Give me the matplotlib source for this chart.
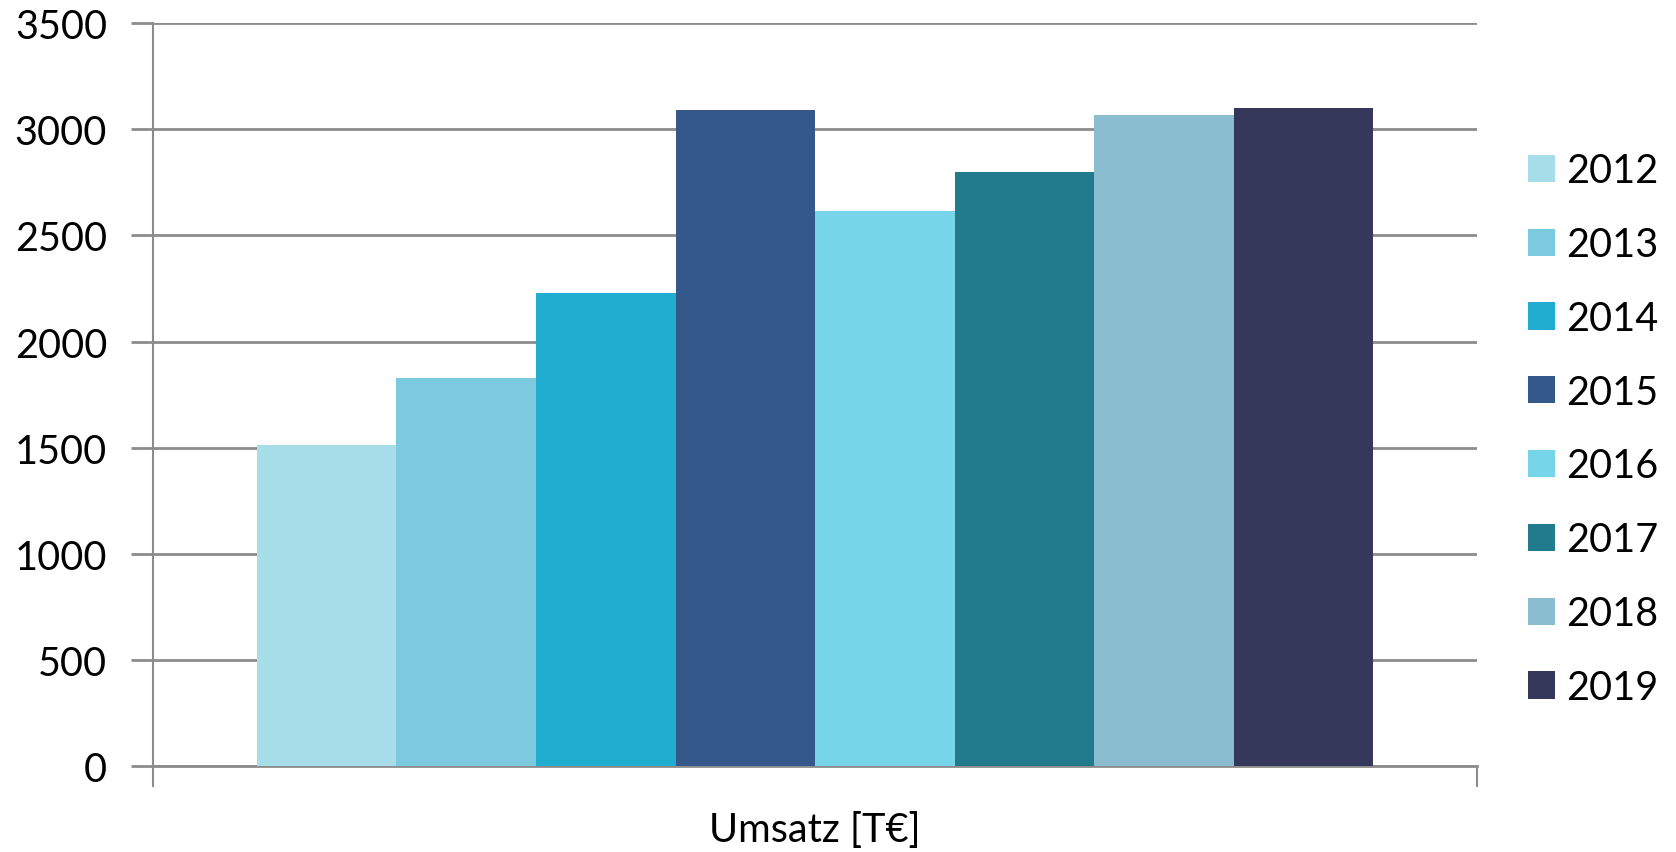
import matplotlib.pyplot as plt

plt.rcParams['font.family'] = ['Lato', 'DejaVu Sans']

# data
years = ['2012', '2013', '2014', '2015', '2016', '2017', '2018', '2019']
umsatz = [1512, 1828, 2228, 3090, 2614, 2798, 3066, 3099]
colors = ['#A6DDE9', '#7BCADF', '#21ADD0', '#335889',
          '#77D5E9', '#227A8D', '#8ABDD0', '#35385B']
category = 'Umsatz [T€]'
yticks = [0, 500, 1000, 1500, 2000, 2500, 3000, 3500]

GRAY = '#8C8C8C'

fig = plt.figure(figsize=(16.76, 8.53), dpi=100)
ax = fig.add_axes([0.0913, 0.1005, 0.79, 0.8714])

for i, (yr, val, col) in enumerate(zip(years, umsatz, colors)):
    ax.bar(i, val, width=1.0, color=col, label=yr, zorder=3)

gap = 0.745
ax.set_xlim(-0.5 - gap, len(years) - 0.5 + gap)
ax.set_ylim(0, 3500)
ax.set_yticks(yticks)
ax.set_xticks([-0.5 - gap, len(years) - 0.5 + gap])
ax.set_xticklabels([])

ax.yaxis.grid(True, color=GRAY, linewidth=2, zorder=0)
ax.tick_params(axis='y', direction='out', length=16, width=2, color=GRAY,
               labelsize=28.5, pad=17)
ax.tick_params(axis='x', direction='out', length=15, width=1.5, color=GRAY)

for s in ['top', 'right']:
    ax.spines[s].set_visible(False)
ax.spines['left'].set_color(GRAY)
ax.spines['left'].set_linewidth(1.5)
ax.spines['bottom'].set_color(GRAY)
ax.spines['bottom'].set_linewidth(2)

ax.set_xlabel(category, fontsize=28.5, labelpad=14)

fig.legend(loc='upper left', bbox_to_anchor=(0.902, 0.839), frameon=False,
           fontsize=28.5, handlelength=0.68, handleheight=0.68,
           handletextpad=0.3, labelspacing=0.93, borderaxespad=0)

fig.savefig('out.png', dpi=100)
